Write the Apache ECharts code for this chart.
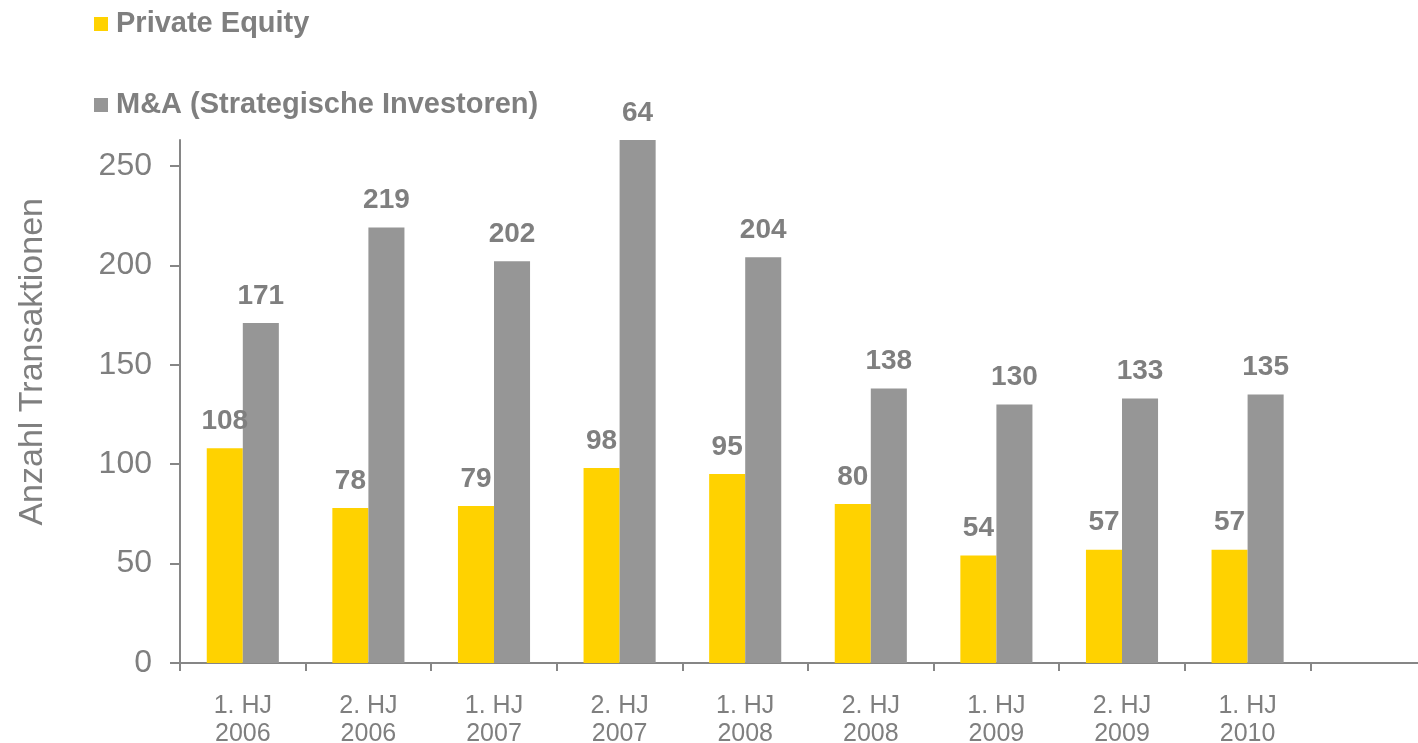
<!DOCTYPE html>
<html>
<head>
<meta charset="utf-8">
<script src="https://cdn.jsdelivr.net/npm/echarts@6/dist/echarts.min.js"></script>
<style>
html,body{margin:0;padding:0;background:#fff;overflow:hidden;width:1418px;height:743px;}
#c{position:absolute;left:0;top:0;width:1436px;height:743px;}
</style>
</head>
<body>
<div id="c"></div>
<script>
const categories = ['1. HJ\n2006','2. HJ\n2006','1. HJ\n2007','2. HJ\n2007','1. HJ\n2008','2. HJ\n2008','1. HJ\n2009','2. HJ\n2009','1. HJ\n2010',''];
const privateEquity = [108,78,79,98,95,80,54,57,57];
const mna = [171,219,202,264,204,138,130,133,135];
const yTicks = [0,50,100,150,200,250];
const seriesNames = ['Private Equity','M&A (Strategische Investoren)'];
const axisTitle = 'Anzahl Transaktionen';

const txt = '#7f7f7f';
const font = 'Arial, "Liberation Sans", sans-serif';
const chart = echarts.init(document.getElementById('c'));
const labelCfg = {show:true,position:'top',distance:13,color:'#7f7f7f',fontWeight:'bold',fontSize:28,fontFamily:font};
chart.setOption({
  animation:false,
  legend:{orient:'vertical',left:89,top:3,itemGap:49,itemWidth:14,itemHeight:14,icon:'rect',
    textStyle:{color:txt,fontWeight:'bold',fontSize:29,fontFamily:font,lineHeight:32,padding:[0,0,0,3]},
    data:seriesNames},
  graphic:[{type:'text',left:16,top:198,rotation:Math.PI/2,
    style:{text:axisTitle,fill:txt,fontSize:34,fontFamily:font}}],
  grid:{left:180,top:140,bottom:80,right:0,containLabel:false,outerBoundsMode:'none'},
  xAxis:{type:'category',data:categories,boundaryGap:true,
    axisLine:{lineStyle:{color:'#868686',width:2}},
    axisTick:{show:true,length:8,inside:false,lineStyle:{color:'#868686',width:2}},
    axisLabel:{color:txt,fontSize:25,fontFamily:font,lineHeight:28,margin:29,interval:0}},
  yAxis:{type:'value',min:0,max:263,interval:50,
    axisLine:{show:true,lineStyle:{color:'#868686',width:2}},
    axisTick:{show:true,length:10,customValues:yTicks,lineStyle:{color:'#868686',width:2}},
    splitLine:{show:false},
    axisLabel:{color:txt,fontSize:32,fontFamily:font,margin:28,customValues:yTicks}},
  series:[
    {name:seriesNames[0],type:'bar',data:privateEquity,barGap:'0%',barCategoryGap:'42.6%',
     itemStyle:{color:'#ffd200'},label:labelCfg},
    {name:seriesNames[1],type:'bar',data:mna,clip:true,
     itemStyle:{color:'#969696'},
     label:Object.assign({},labelCfg,{formatter:p=>p.value>=250?String(p.value).slice(1):String(p.value)})}
  ]
});
</script>
</body>
</html>
